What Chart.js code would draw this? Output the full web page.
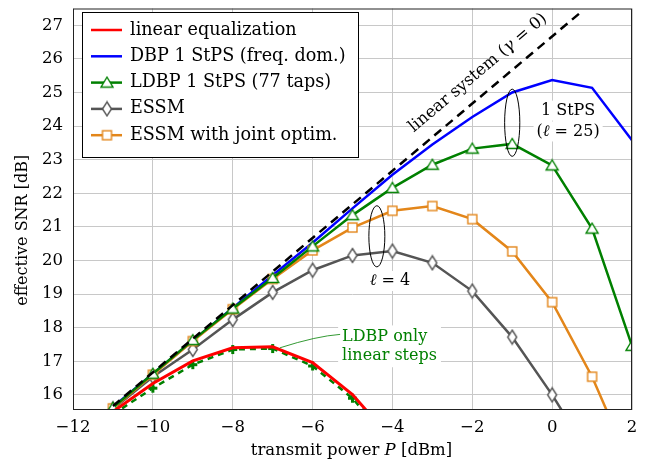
<!DOCTYPE html>
<html>
<head>
<meta charset="utf-8">
<script src="https://cdn.jsdelivr.net/npm/chart.js@4/dist/chart.umd.min.js"></script>
<style>
  html, body { margin: 0; padding: 0; background: #fff; }
  #wrap { width: 662px; height: 466px; }
</style>
</head>
<body>
<div id="wrap"><canvas id="snrChart" width="662" height="466"></canvas></div>
<script>
// transmit power [dBm] and effective SNR [dB]
const powers = [-11, -10, -9, -8, -7, -6, -5, -4, -3, -2, -1, 0, 1, 2];
const snrLinearEq     = [15.50, 16.34, 17.01, 17.40, 17.43, 16.96, 16.01, 14.65];
const snrLdbpLinSteps = [15.42, 16.20, 16.90, 17.35, 17.38, 16.86, 15.90, 14.50];
const snrDbp          = [15.64, 16.63, 17.61, 18.59, 19.56, 20.53, 21.55, 22.55, 23.45, 24.27, 25.00, 25.37, 25.14, 23.58];
const snrLdbp         = [15.62, 16.63, 17.63, 18.57, 19.48, 20.42, 21.35, 22.16, 22.85, 23.33, 23.47, 22.83, 20.95, 17.46];
const snrEssm         = [15.58, 16.54, 17.35, 18.24, 19.05, 19.71, 20.15, 20.28, 19.93, 19.09, 17.72, 16.00, 14.10];
const snrEssmJoint    = [15.60, 16.60, 17.60, 18.55, 19.45, 20.30, 20.98, 21.48, 21.62, 21.23, 20.27, 18.76, 16.54, 13.80];
const linSysPowers = [-11, 0.75];
const linSysSnr    = [15.67, 27.42];

const xTicks = [-12, -10, -8, -6, -4, -2, 0, 2];
const yTicks = [16, 17, 18, 19, 20, 21, 22, 23, 24, 25, 26, 27];

const serif = '"DejaVu Serif", serif';
const C_RED = '#ff0000', C_BLUE = '#0000ff', C_GREEN = '#008000', C_GRAY = '#555555', C_ORANGE = '#e3861a';

const pts = (ys, xs = powers) => ys.map((y, i) => ({ x: xs[i], y }));

// marker images (pgfplots style: white filled, coloured outline)
function marker(w, h, draw) {
  const c = document.createElement('canvas');
  c.width = w; c.height = h;
  draw(c.getContext('2d'), w, h);
  return c;
}
const triMark = marker(16, 14, (g) => {
  g.beginPath(); g.moveTo(8, 1.5); g.lineTo(14, 11.5); g.lineTo(2, 11.5); g.closePath();
  g.fillStyle = '#fff'; g.fill(); g.strokeStyle = C_GREEN; g.lineWidth = 1.4; g.stroke();
});
const diaMark = marker(12, 17, (g) => {
  g.beginPath(); g.moveTo(6, 1.5); g.lineTo(10.5, 8.5); g.lineTo(6, 15.5); g.lineTo(1.5, 8.5); g.closePath();
  g.fillStyle = '#fff'; g.fill(); g.strokeStyle = C_GRAY; g.lineWidth = 1.4; g.stroke();
});
const sqMark = marker(13, 13, (g) => {
  g.fillStyle = '#fff'; g.fillRect(2, 2, 9, 9);
  g.strokeStyle = C_ORANGE; g.lineWidth = 1.4; g.strokeRect(2, 2, 9, 9);
});
const plusMark = marker(11, 11, (g) => {
  g.strokeStyle = C_GREEN; g.lineWidth = 3;
  g.beginPath(); g.moveTo(5.5, 1); g.lineTo(5.5, 10); g.moveTo(1, 5.5); g.lineTo(10, 5.5); g.stroke();
});

const legendItems = [
  { text: 'linear equalization', color: C_RED, mark: null },
  { text: 'DBP 1 StPS (freq. dom.)', color: C_BLUE, mark: null },
  { text: 'LDBP 1 StPS (77 taps)', color: C_GREEN, mark: triMark },
  { text: 'ESSM', color: C_GRAY, mark: diaMark },
  { text: 'ESSM with joint optim.', color: C_ORANGE, mark: sqMark },
];

// draw a string made of runs with different fonts
function drawRuns(ctx, runs, x, y, align) {
  let total = 0;
  runs.forEach(r => { ctx.font = r[1]; total += ctx.measureText(r[0]).width; });
  let cx = align === 'center' ? x - total / 2 : x;
  ctx.textAlign = 'left';
  runs.forEach(r => { ctx.font = r[1]; ctx.fillText(r[0], cx, y); cx += ctx.measureText(r[0]).width; });
  return total;
}

const decorations = {
  id: 'decorations',
  afterDatasetsDraw(chart) {
    const { ctx, chartArea: a, scales: { x, y } } = chart;
    const fn = (s) => s + 'px ' + serif;
    const fi = (s) => 'italic ' + s + 'px ' + serif;
    ctx.save();
    ctx.fillStyle = '#000';
    ctx.textBaseline = 'middle';

    // frame
    ctx.strokeStyle = '#222';
    ctx.lineWidth = 1;
    ctx.strokeRect(a.left + 0.5, a.top + 0.5, a.width - 1, a.height - 1);

    // ellipses
    const ellipse = (px, py, rx, ry) => {
      const cx = x.getPixelForValue(px), cy = y.getPixelForValue(py);
      const w = Math.abs(x.getPixelForValue(px + rx) - cx), h = Math.abs(y.getPixelForValue(py + ry) - cy);
      ctx.beginPath(); ctx.ellipse(cx, cy, w, h, 0, 0, Math.PI * 2);
      ctx.strokeStyle = '#000'; ctx.lineWidth = 1; ctx.stroke();
    };
    ellipse(-1, 24.1, 0.19, 1.0);
    ellipse(-4.39, 20.72, 0.2, 0.91);

    // labels with white background
    const label = (runs, px, py, color) => {
      let w = 0;
      runs.forEach(r => { ctx.font = r[1]; w += ctx.measureText(r[0]).width; });
      const cx = x.getPixelForValue(px), cy = y.getPixelForValue(py);
      ctx.fillStyle = '#fff';
      ctx.fillRect(cx - w / 2 - 3, cy - 10, w + 6, 20);
      ctx.fillStyle = color || '#000';
      drawRuns(ctx, runs, cx, cy, 'center');
    };
    label([['1 StPS', fn(16)]], 0.4, 24.46);
    label([['(', fn(16)], ['ℓ', fi(16)], [' = 25)', fn(16)]], 0.4, 23.84);
    label([['ℓ', fi(16)], [' = 4', fn(16)]], -4.06, 19.39);

    // LDBP only linear steps
    const lx = x.getPixelForValue(-5.26);
    const ly1 = y.getPixelForValue(17.74), ly2 = y.getPixelForValue(17.15);
    ctx.font = fn(16);
    const lw = Math.max(ctx.measureText('LDBP only').width, ctx.measureText('linear steps').width);
    ctx.fillStyle = '#fff';
    ctx.fillRect(lx - 4, ly1 - 11, lw + 8, ly2 - ly1 + 22);
    ctx.strokeStyle = C_GREEN; ctx.lineWidth = 0.8;
    ctx.beginPath();
    ctx.moveTo(x.getPixelForValue(-6.82), y.getPixelForValue(17.4));
    ctx.quadraticCurveTo(x.getPixelForValue(-5.9), y.getPixelForValue(17.75), lx - 2, y.getPixelForValue(17.8));
    ctx.stroke();
    ctx.fillStyle = C_GREEN;
    ctx.textAlign = 'left';
    ctx.fillText('LDBP only', lx, ly1);
    ctx.fillText('linear steps', lx, ly2);

    // rotated label along the linear system line
    const ang = Math.atan2(y.getPixelForValue(27) - y.getPixelForValue(16), x.getPixelForValue(0) - x.getPixelForValue(-11));
    ctx.save();
    ctx.translate(x.getPixelForValue(-1.86), y.getPixelForValue(25.58));
    ctx.rotate(ang);
    ctx.fillStyle = '#000';
    drawRuns(ctx, [['linear system (', fn(16.5)], ['γ', fi(16.5)], [' = 0)', fn(16.5)]], 0, 0, 'center');
    ctx.restore();

    // legend box
    ctx.fillStyle = '#fff';
    ctx.fillRect(82, 12, 276, 145);
    ctx.strokeStyle = '#000'; ctx.lineWidth = 1;
    ctx.strokeRect(82.5, 12.5, 276, 145);
    legendItems.forEach((it, i) => {
      const yy = 30 + i * 26.3;
      ctx.strokeStyle = it.color; ctx.lineWidth = 2.5;
      ctx.beginPath(); ctx.moveTo(91, yy); ctx.lineTo(122, yy); ctx.stroke();
      if (it.mark) ctx.drawImage(it.mark, 107 - it.mark.width / 2, yy - it.mark.height / 2);
      ctx.fillStyle = '#000';
      ctx.font = fn(17.6);
      ctx.textAlign = 'left';
      ctx.fillText(it.text, 130, yy);
    });

    // axis titles
    ctx.textBaseline = 'alphabetic';
    ctx.fillStyle = '#000';
    drawRuns(ctx, [['transmit power ', fn(16.5)], ['P', fi(16.5)], [' [dBm]', fn(16.5)]], (a.left + a.right) / 2 - 1, 455, 'center');
    ctx.save();
    ctx.translate(27, (a.top + a.bottom) / 2 + 21);
    ctx.rotate(-Math.PI / 2);
    drawRuns(ctx, [['effective SNR [dB]', fn(16)]], 0, 0, 'center');
    ctx.restore();

    ctx.restore();
  }
};

const lineDefaults = { borderWidth: 2.5, pointRadius: 6, pointHoverRadius: 6, clip: 0, tension: 0 };

new Chart(document.getElementById('snrChart'), {
  type: 'line',
  data: {
    datasets: [
      { label: 'linear system', data: pts(linSysSnr, linSysPowers), borderColor: '#000', borderDash: [9, 6], ...lineDefaults, pointRadius: 0, order: 0 },
      { label: 'linear equalization', data: pts(snrLinearEq), borderColor: C_RED, ...lineDefaults, borderWidth: 3, pointRadius: 0, order: 1 },
      { label: 'LDBP only linear steps', data: pts(snrLdbpLinSteps), borderColor: C_GREEN, borderDash: [6, 5], ...lineDefaults, pointStyle: plusMark, order: 2 },
      { label: 'LDBP 1 StPS (77 taps)', data: pts(snrLdbp), borderColor: C_GREEN, ...lineDefaults, pointStyle: triMark, order: 3 },
      { label: 'ESSM with joint optim.', data: pts(snrEssmJoint), borderColor: C_ORANGE, ...lineDefaults, pointStyle: sqMark, order: 4 },
      { label: 'ESSM', data: pts(snrEssm), borderColor: C_GRAY, ...lineDefaults, pointStyle: diaMark, order: 5 },
      { label: 'DBP 1 StPS (freq. dom.)', data: pts(snrDbp), borderColor: C_BLUE, ...lineDefaults, pointRadius: 0, order: 6 },
    ]
  },
  options: {
    responsive: false,
    animation: false,
    devicePixelRatio: 1,
    layout: { padding: { left: 0, top: 3, right: 30, bottom: 0 } },
    plugins: { legend: { display: false }, tooltip: { enabled: false } },
    scales: {
      x: {
        type: 'linear', min: -12, max: 2,
        afterBuildTicks: (s) => { s.ticks = xTicks.map(v => ({ value: v })); },
        afterFit: (s) => { s.height = 56; s.paddingLeft = 0; s.paddingRight = 0; },
        grid: { color: '#c8c8c8', lineWidth: 1, drawTicks: false },
        border: { display: false },
        ticks: {
          padding: 8, color: '#000', font: { family: serif, size: 16.5 },
          callback: (v) => (v < 0 ? '\u2212' + Math.abs(v) : String(v)),
          maxRotation: 0
        }
      },
      y: {
        type: 'linear', min: 15.55, max: 27.5,
        afterBuildTicks: (s) => { s.ticks = yTicks.map(v => ({ value: v })); },
        afterFit: (s) => { s.width = 73; s.paddingTop = 0; s.paddingBottom = 0; },
        grid: { color: '#c8c8c8', lineWidth: 1, drawTicks: false },
        border: { display: false },
        ticks: { padding: 10, color: '#000', font: { family: serif, size: 16.5 } }
      }
    }
  },
  plugins: [decorations]
});
</script>
</body>
</html>
